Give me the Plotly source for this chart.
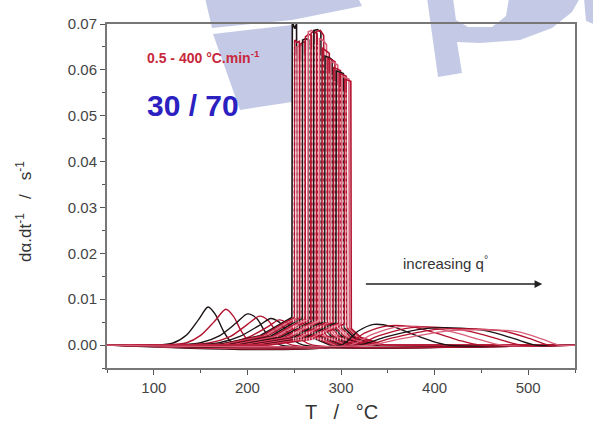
import plotly.graph_objects as go

# ---------------- data ----------------
# Group A: low-temperature humps (no ignition spike), slowest rates
hump_T = [
    [50, 100, 120, 135, 148, 158, 166, 174, 182, 192, 550],
    [50, 110, 135, 150, 165, 177, 185, 193, 201, 210, 550],
    [50, 125, 150, 170, 188, 200, 210, 218, 226, 236, 550],
    [50, 135, 160, 182, 200, 213, 222, 230, 238, 248, 550],
    [50, 145, 170, 192, 212, 225, 234, 242, 250, 260, 550],
    [50, 155, 180, 202, 222, 234, 243, 251, 259, 270, 550],
]
hump_R = [
    [0, 0, 0.0004, 0.0022, 0.0056, 0.0083, 0.0066, 0.0032, 0.0008, 0, 0],
    [0, 0, 0.0005, 0.0021, 0.0052, 0.0078, 0.0063, 0.0032, 0.0009, 0, 0],
    [0, 0, 0.0005, 0.0020, 0.0048, 0.0068, 0.0058, 0.0032, 0.0010, 0, 0],
    [0, 0, 0.0005, 0.0019, 0.0045, 0.0063, 0.0054, 0.0031, 0.0010, 0, 0],
    [0, 0, 0.0005, 0.0019, 0.0042, 0.0058, 0.0050, 0.0030, 0.0010, 0, 0],
    [0, 0, 0.0005, 0.0018, 0.0040, 0.0055, 0.0047, 0.0029, 0.0010, 0, 0],
]

# Group B: ignition spikes (rise, near-vertical jump, plateau, vertical drop)
spike_T = [
    [50, 168, 213, 238, 247.5, 248, 250.5, 252.5, 253, 263, 288, 550],
    [50, 170.5, 215.5, 240.5, 250, 250.5, 253, 255.5, 256, 266, 291, 550],
    [50, 173, 218, 243, 252.5, 253, 256, 258.5, 259, 269, 294, 550],
    [50, 176, 221, 246, 255.5, 256, 259, 261.5, 262, 272, 297, 550],
    [50, 179, 224, 249, 258.5, 259, 262.5, 265.5, 266, 276, 301, 550],
    [50, 182, 227, 252, 261.5, 262, 265.5, 268.5, 269, 279, 304, 550],
    [50, 185, 230, 255, 264.5, 265, 268.5, 271.5, 272, 282, 307, 550],
    [50, 188, 233, 258, 267.5, 268, 271.5, 274.5, 275, 285, 310, 550],
    [50, 191, 236, 261, 270.5, 271, 275, 278.5, 279, 289, 314, 550],
    [50, 194, 239, 264, 273.5, 274, 278, 281.5, 282, 292, 317, 550],
    [50, 197, 242, 267, 276.5, 277, 281, 284.5, 285, 295, 320, 550],
    [50, 200, 245, 270, 279.5, 280, 284, 287.5, 288, 298, 323, 550],
    [50, 203, 248, 273, 282.5, 283, 287, 290.5, 291, 301, 326, 550],
    [50, 206, 251, 276, 285.5, 286, 290, 293.5, 294, 304, 329, 550],
    [50, 209, 254, 279, 288.5, 289, 293, 296.5, 297, 307, 332, 550],
    [50, 212, 257, 282, 291.5, 292, 296, 299.5, 300, 310, 335, 550],
    [50, 215, 260, 285, 294.5, 295, 299, 302.5, 303, 313, 338, 550],
    [50, 218, 263, 288, 297.5, 298, 302, 305.5, 306, 316, 341, 550],
    [50, 221, 266, 291, 300.5, 301, 305, 308.5, 309, 319, 344, 550],
    [50, 224, 269, 294, 303.5, 304, 307.5, 310.5, 311, 321, 346, 550],
]
spike_R = [
    [0, 0, 0.0020, 0.0050, 0.0060, 0.0705, 0.0690, 0.0700, 0.0050, 0.0022, 0, 0],
    [0, 0, 0.0020, 0.0050, 0.0059, 0.0665, 0.0660, 0.0662, 0.0049, 0.0022, 0, 0],
    [0, 0, 0.0019, 0.0049, 0.0058, 0.0650, 0.0652, 0.0655, 0.0048, 0.0021, 0, 0],
    [0, 0, 0.0019, 0.0049, 0.0058, 0.0655, 0.0660, 0.0662, 0.0047, 0.0021, 0, 0],
    [0, 0, 0.0018, 0.0048, 0.0057, 0.0665, 0.0668, 0.0665, 0.0047, 0.0021, 0, 0],
    [0, 0, 0.0018, 0.0047, 0.0056, 0.0672, 0.0678, 0.0675, 0.0046, 0.0020, 0, 0],
    [0, 0, 0.0018, 0.0047, 0.0055, 0.0683, 0.0686, 0.0680, 0.0045, 0.0020, 0, 0],
    [0, 0, 0.0017, 0.0046, 0.0055, 0.0680, 0.0684, 0.0678, 0.0045, 0.0020, 0, 0],
    [0, 0, 0.0017, 0.0045, 0.0054, 0.0686, 0.0688, 0.0682, 0.0044, 0.0020, 0, 0],
    [0, 0, 0.0016, 0.0045, 0.0053, 0.0684, 0.0686, 0.0675, 0.0043, 0.0019, 0, 0],
    [0, 0, 0.0016, 0.0044, 0.0052, 0.0668, 0.0664, 0.0655, 0.0043, 0.0019, 0, 0],
    [0, 0, 0.0016, 0.0043, 0.0052, 0.0648, 0.0642, 0.0636, 0.0042, 0.0019, 0, 0],
    [0, 0, 0.0015, 0.0043, 0.0051, 0.0630, 0.0627, 0.0622, 0.0041, 0.0019, 0, 0],
    [0, 0, 0.0015, 0.0042, 0.0050, 0.0625, 0.0622, 0.0618, 0.0040, 0.0018, 0, 0],
    [0, 0, 0.0015, 0.0041, 0.0050, 0.0618, 0.0615, 0.0610, 0.0040, 0.0018, 0, 0],
    [0, 0, 0.0014, 0.0041, 0.0049, 0.0605, 0.0602, 0.0598, 0.0039, 0.0018, 0, 0],
    [0, 0, 0.0014, 0.0040, 0.0048, 0.0598, 0.0595, 0.0592, 0.0038, 0.0018, 0, 0],
    [0, 0, 0.0014, 0.0039, 0.0048, 0.0592, 0.0590, 0.0586, 0.0038, 0.0017, 0, 0],
    [0, 0, 0.0013, 0.0039, 0.0047, 0.0586, 0.0583, 0.0580, 0.0037, 0.0017, 0, 0],
    [0, 0, 0.0013, 0.0038, 0.0046, 0.0580, 0.0578, 0.0575, 0.0036, 0.0017, 0, 0],
]

# Group C: broad high-temperature humps, fastest rates
tail_T = [
    [50, 300, 318, 335, 355, 375, 395, 415, 550],
    [50, 305, 325, 350, 375, 400, 425, 448, 550],
    [50, 310, 332, 362, 392, 420, 448, 472, 550],
    [50, 315, 340, 375, 410, 440, 468, 492, 550],
    [50, 320, 348, 390, 428, 458, 485, 508, 550],
    [50, 325, 356, 402, 445, 475, 502, 522, 550],
    [50, 330, 365, 415, 460, 490, 515, 533, 550],
]
tail_R = [
    [0, 0, 0.0030, 0.0045, 0.0040, 0.0025, 0.0010, 0, 0],
    [0, 0, 0.0026, 0.0042, 0.0040, 0.0027, 0.0011, 0, 0],
    [0, 0, 0.0022, 0.0040, 0.0039, 0.0028, 0.0012, 0, 0],
    [0, 0, 0.0020, 0.0038, 0.0038, 0.0029, 0.0013, 0, 0],
    [0, 0, 0.0018, 0.0036, 0.0037, 0.0030, 0.0014, 0, 0],
    [0, 0, 0.0016, 0.0034, 0.0035, 0.0030, 0.0014, 0, 0],
    [0, 0, 0.0014, 0.0031, 0.0033, 0.0029, 0.0013, 0, 0],
]

x_ticks = [100, 200, 300, 400, 500]
y_ticks = [0.00, 0.01, 0.02, 0.03, 0.04, 0.05, 0.06, 0.07]

rate_label = "0.5 - 400 °C.min<sup>-1</sup>"
comp_label = "30 / 70"
arrow_label = "increasing q<sup>°</sup>"
x_title = "T   /   °C"
y_title = "dα.dt<sup>-1</sup>   /   s<sup>-1</sup>"

# ---------------- styling ----------------
BLACK = "#1c1414"
RED = "#b3122e"
PINK = "#d9607a"
cycle = [BLACK, RED, PINK, RED]
FONT = "Liberation Sans, Arial"

fig = go.Figure()

for k, (T, R) in enumerate(zip(hump_T, hump_R)):
    fig.add_trace(go.Scatter(x=T, y=R, mode="lines",
                             line=dict(color=cycle[k % 2], width=1.4, shape="spline", smoothing=0.8),
                             hoverinfo="skip"))
for i, (T, R) in enumerate(zip(spike_T, spike_R)):
    fig.add_trace(go.Scatter(x=T, y=R, mode="lines", line=dict(color=cycle[i % 4], width=1.6),
                             hoverinfo="skip"))
for i, (T, R) in enumerate(zip(tail_T, tail_R)):
    fig.add_trace(go.Scatter(x=T, y=R, mode="lines",
                             line=dict(color=cycle[i % 4], width=1.3, shape="spline", smoothing=0.8),
                             hoverinfo="skip"))
# dotted light texture inside the spike block
for i, (T, R) in enumerate(zip(spike_T, spike_R)):
    fig.add_trace(go.Scatter(x=[T[5] + 1.3, T[5] + 1.3], y=[0.001, R[5] - 0.003], mode="lines",
                             line=dict(color="rgba(255,232,232,0.8)", width=1.1, dash="dot"),
                             hoverinfo="skip"))

# ---------------- watermark (decoration) ----------------
L, R_, TOP, BOT = 107, 575, 24, 368
def P(px, py):
    return (px - L) / (R_ - L), (BOT - py) / (BOT - TOP)
def sub(pts):
    s = ""
    for j, (px, py) in enumerate(pts):
        x, y = P(px, py)
        s += ("M" if j == 0 else "L") + f"{x:.4f},{y:.4f} "
    return s + "Z "

WM = "rgba(176,184,220,0.75)"
shapes = [
    dict(type="path", xref="paper", yref="paper", layer="below", line_width=0, fillcolor=WM,
         path=sub([(205, -2), (358, -2), (362, 6), (292, 20), (212, 28)])),
    dict(type="path", xref="paper", yref="paper", layer="below", line_width=0, fillcolor=WM,
         path=sub([(213, 34), (292, 25), (292, 102), (240, 110)])),
    dict(type="path", xref="paper", yref="paper", layer="below", line_width=0, fillcolor=WM,
         fillrule="evenodd",
         path=sub([(427, -2), (438, 77), (462, 73), (457, 42), (480, 43), (520, 40), (552, 28),
                   (572, 12), (580, -2)])
              + sub([(453, -2), (456, 20), (468, 27), (492, 27), (506, 16), (509, -2)])),
    dict(type="path", xref="paper", yref="paper", layer="below", line_width=0, fillcolor=WM,
         path=sub([(584, -2), (594, -2), (594, 24), (586, 21)])),
]

annotations = [
    dict(x=153, y=0.0627, xref="x", yref="y", text=f"<b>{rate_label}</b>", showarrow=False,
         font=dict(family=FONT, size=14, color="#c8283c")),
    dict(x=142, y=0.0523, xref="x", yref="y", text=f"<b>{comp_label}</b>", showarrow=False,
         font=dict(family=FONT, size=30, color="#2b20c0")),
    dict(x=412, y=0.0181, xref="x", yref="y", text=arrow_label, showarrow=False,
         font=dict(family=FONT, size=15, color="#333333")),
    dict(x=515, y=0.0133, ax=325, ay=0.0133, xref="x", yref="y", axref="x", ayref="y", text="",
         showarrow=True, arrowhead=2, arrowsize=1.1, arrowwidth=1.4, arrowcolor="#222222"),
    dict(x=0.5, y=P(0, 412)[1], xref="paper", yref="paper", xanchor="center", yanchor="middle",
         text=x_title, showarrow=False, font=dict(family=FONT, size=20, color="#333333")),
    dict(x=P(24, 0)[0], y=P(0, 212)[1], xref="paper", yref="paper", xanchor="center", yanchor="middle",
         text=y_title, showarrow=False, textangle=-90,
         font=dict(family=FONT, size=17, color="#333333")),
]

axis_font = dict(family=FONT, size=15, color="#444444")
fig.update_layout(
    width=593, height=429,
    margin=dict(l=107, r=18, t=24, b=61),
    paper_bgcolor="white", plot_bgcolor="rgba(0,0,0,0)",
    showlegend=False,
    shapes=shapes, annotations=annotations,
    xaxis=dict(range=[50, 550], tickvals=x_ticks, ticks="outside", ticklen=5, tickwidth=1.2,
               tickcolor="#555", showline=True, linecolor="#777", linewidth=2, mirror=True,
               showgrid=False, zeroline=False,
               minor=dict(ticks="outside", ticklen=3, dtick=50, tick0=0, tickcolor="#555", showgrid=False),
               tickfont=axis_font),
    yaxis=dict(range=[-0.005, 0.07], tickvals=y_ticks, tickformat=".2f", ticks="outside", ticklen=5,
               tickwidth=1.2, tickcolor="#555", showline=True, linecolor="#777", linewidth=2, mirror=True,
               showgrid=False, zeroline=False,
               minor=dict(ticks="outside", ticklen=3, dtick=0.005, tick0=0, tickcolor="#555", showgrid=False),
               tickfont=axis_font),
)

fig.write_html("out.html")
